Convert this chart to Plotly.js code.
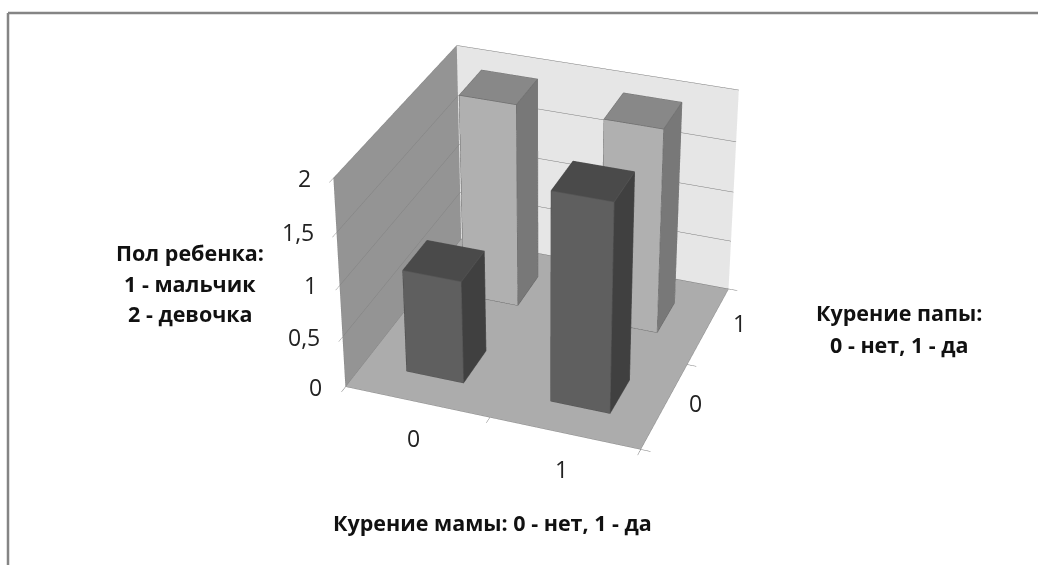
<!DOCTYPE html>
<html><head><meta charset="utf-8">
<script src="https://cdn.plot.ly/plotly-3.0.1.min.js"></script>
<style>html,body{margin:0;background:#fff;width:1038px;height:565px;overflow:hidden}#c{position:absolute;left:0;top:-643px;width:1038px;height:1760px}</style></head>
<body><div id="c"></div><script>
const momSmoking=[0,0,1,1], dadSmoking=[0,1,0,1], childSex=[1,2,2,2];
const zTicks=[0,.5,1,1.5,2], zLabels=['0','0,5','1','1,5','2'];
const catLabels=['0','1'];
const boxHalf=0.2;
function box(cx,cy,h){
  const a=cx-boxHalf,b=cx+boxHalf,c=cy-boxHalf,d=cy+boxHalf;
  return {x:[a,b,b,a,a,b,b,a],y:[c,c,d,d,c,c,d,d],z:[0,0,0,0,h,h,h,h]};
}
const edgeOrder=[0,1,2,3,0,4,5,1,5,6,2,6,7,3,7,4];
const data=[];
momSmoking.forEach((m,i)=>{
  const B=box(m+.5,dadSmoking[i]+.5,childSex[i]);
  const tall=dadSmoking[i]===1;
  const front=tall?'#b0b0b0':'#5f5f5f', side=tall?'#787878':'#404040', top=tall?'#888888':'#4a4a4a';
  data.push({type:'mesh3d',x:B.x,y:B.y,z:B.z,
    i:[0,0,4,4,0,0,1,1,2,2,3,3],j:[1,2,5,6,1,5,2,6,3,7,0,4],k:[2,3,6,7,5,4,6,5,7,6,4,7],
    facecolor:['#444','#444',top,top,front,front,side,side,front,front,side,side],
    flatshading:true,lighting:{ambient:1,diffuse:0,specular:0,roughness:1,fresnel:0},hoverinfo:'skip',showscale:false});
  data.push({type:'scatter3d',mode:'lines',x:edgeOrder.map(k=>B.x[k]),y:edgeOrder.map(k=>B.y[k]),z:edgeOrder.map(k=>B.z[k]),
    line:{color:tall?'#6e6e6e':'#555555',width:1.5},hoverinfo:'skip'});
});
const ax=(vals,bg)=>({tickmode:'array',tickvals:vals,ticktext:vals.map(()=>''),showticklabels:false,showbackground:true,backgroundcolor:bg,title:{text:''},
  showgrid:false,zeroline:false,showline:true,linecolor:'#8a8a8a',linewidth:1,ticks:'outside',ticklen:8,tickcolor:'#777',showspikes:false,range:[0,2]});
const sceneLabel=(x,y,z,text,xs,ys,anchor)=>({x,y,z,text,xshift:xs,yshift:ys,xanchor:anchor||'center',showarrow:false,font:{family:'Open Sans',size:23,color:'#222'}});
const W=1038,H=1760,OFF=643;
const label=(px,py,text)=>({x:px/W,y:1-(py+OFF)/H,xref:'paper',yref:'paper',xanchor:'center',yanchor:'middle',text:'<b>'+text+'</b>',showarrow:false,font:{family:'Open Sans',size:21.5,color:'#111'}});
const seg=(x0,y0,x1,y1)=>({type:'line',xref:'paper',yref:'paper',x0:x0/W,y0:1-(y0+OFF)/H,x1:x1/W,y1:1-(y1+OFF)/H,line:{color:'#858585',width:2.5}});
const layout={width:W,height:H,margin:{l:0,r:0,t:0,b:0},separators:', ',showlegend:false,paper_bgcolor:'#fff',
  scene:{domain:{x:[0.048,1],y:[0,1]},aspectmode:'manual',aspectratio:{x:1,y:1,z:.77},
    camera:{eye:{x:2.04,y:-5.61,z:3.51},center:{x:0,y:0,z:0},projection:{type:'perspective'}},
    xaxis:ax([0,1,2],'#949494'),yaxis:ax([0,1,2],'#e6e6e6'),
    zaxis:Object.assign(ax(zTicks,'#acacac'),{showgrid:true,gridcolor:'#7c7c7c',gridwidth:1}),
    annotations:[
      ...zTicks.map((v,i)=>sceneLabel(0,0,v,zLabels[i],-21,0,'right')),
      ...catLabels.map((t,i)=>sceneLabel(i+.5,0,0,t,-3,-36)),
      ...catLabels.map((t,i)=>sceneLabel(2,i+.5,0,t,31,3))
    ]},
  annotations:[
    label(190,252,'Пол ребенка:'),label(190,283,'1 - мальчик'),label(190,314,'2 - девочка'),
    label(899,312,'Курение папы:'),label(899,344,'0 - нет, 1 - да'),
    label(492,522,'Курение мамы: 0 - нет, 1 - да')],
  shapes:[seg(8,565,8,13),seg(8,13,1038,13)]};
Plotly.newPlot('c',data,layout,{displayModeBar:false});
</script></body></html>
